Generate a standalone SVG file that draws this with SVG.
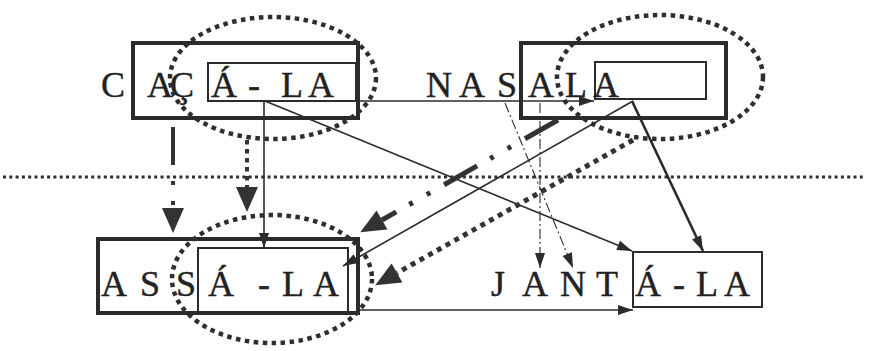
<svg xmlns="http://www.w3.org/2000/svg" width="869" height="351" viewBox="0 0 869 351">
<style>
.bg{fill:#ffffff}
.word{font-family:"Liberation Serif","Times New Roman",serif;font-size:36px;fill:#222;stroke:#222;stroke-width:0.4}
.thick{fill:none;stroke:#2b2b2b;stroke-width:4}
.thin{fill:none;stroke:#2b2b2b;stroke-width:2}
.hl{fill:none;stroke:#2e2e2e;stroke-width:4.5;stroke-dasharray:4.5 4.5}
.sep{fill:none;stroke:#2e2e2e;stroke-width:3;stroke-dasharray:3 3.3}
.c{fill:none;stroke:#2b2b2b;stroke-width:1.6}
.cb{fill:none;stroke:#2b2b2b;stroke-width:2.6}
.dd{fill:none;stroke:#2b2b2b;stroke-width:1.1;stroke-dasharray:10 3 2 3}
.dots{fill:none;stroke:#333;stroke-width:5;stroke-dasharray:5 5}
.dashdots{fill:none;stroke:#333;stroke-width:5;stroke-dasharray:38 16 4 16 4 15}
.vdashdots{fill:none;stroke:#333;stroke-width:4;stroke-dasharray:38 16 4 16 4 16}
.vdots{fill:none;stroke:#333;stroke-width:4;stroke-dasharray:4.5 4.5}
</style>
<defs>
<marker id="sa" markerUnits="userSpaceOnUse" markerWidth="16" markerHeight="12" refX="15" refY="5" orient="auto" overflow="visible"><path d="M0,0 L15,5 L0,10 Z" fill="#2b2b2b"/></marker>
<marker id="ba" markerUnits="userSpaceOnUse" markerWidth="26" markerHeight="22" refX="0" refY="11" orient="auto" overflow="visible"><path d="M0,0 L25,11 L0,22 Z" fill="#333"/></marker>
</defs>
<rect class="bg" x="0" y="0" width="869" height="351"/>

<g id="separator">
<line class="sep" x1="3" y1="177" x2="866" y2="177"/>
</g>

<g id="node-cacala">
<rect class="thick" x="133" y="43" width="225" height="75"/>
<rect class="thin" x="208" y="63" width="148" height="38"/>
<text class="word" x="101 147 170 211 248 281 308" y="97">CAÇÁ-LA</text>
<ellipse class="hl" cx="273" cy="78" rx="103" ry="61"/>
</g>

<g id="node-nasala">
<rect class="thick" x="521" y="43" width="205" height="75"/>
<rect class="thin" x="595" y="62" width="111" height="37"/>
<text class="word" x="426 459 497 528 565 593" y="97">NASALA</text>
<ellipse class="hl" cx="660" cy="77" rx="103" ry="62"/>
</g>

<g id="node-assala">
<rect class="thick" x="98" y="239" width="260" height="74"/>
<rect class="thin" x="198" y="248" width="150" height="65"/>
<text class="word" x="101 140 176 208 258 282 313" y="296">ASSÁ-LA</text>
<ellipse class="hl" cx="272" cy="279" rx="100" ry="64"/>
</g>

<g id="node-jantala">
<rect class="thin" x="633" y="252" width="129" height="55"/>
<text class="word" x="491 522 560 596 635 673 696 724" y="296">JANTÁ-LA</text>
</g>

<g id="connectors">
<line class="c" x1="356" y1="101" x2="594" y2="101" marker-end="url(#sa)"/>
<line class="c" x1="264" y1="101" x2="264" y2="248" marker-end="url(#sa)"/>
<line class="c" x1="265" y1="101" x2="632" y2="251" marker-end="url(#sa)"/>
<line class="c" x1="633" y1="101" x2="343" y2="266" marker-end="url(#sa)"/>
<line class="cb" x1="632" y1="101" x2="703" y2="251" marker-end="url(#sa)"/>
<line class="c" x1="358" y1="310" x2="633" y2="310" marker-end="url(#sa)"/>
<line class="dd" x1="505" y1="103" x2="573" y2="268" marker-end="url(#sa)"/>
<line class="dd" x1="540" y1="103" x2="540" y2="268" marker-end="url(#sa)"/>
<line class="dashdots" x1="558" y1="120" x2="382" y2="220" marker-end="url(#ba)"/>
<line class="dots" x1="633" y1="140" x2="397" y2="273" marker-end="url(#ba)"/>
<line class="vdots" x1="247" y1="140" x2="247" y2="187" marker-end="url(#ba)"/>
<line class="vdashdots" x1="173" y1="127" x2="173" y2="208" marker-end="url(#ba)"/>
</g>
</svg>
